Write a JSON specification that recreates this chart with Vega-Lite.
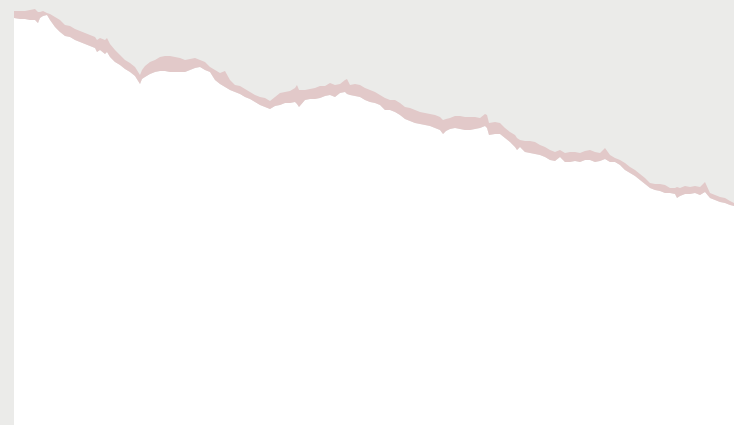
{
  "$schema": "https://vega.github.io/schema/vega-lite/v6.json",
  "width": 720,
  "height": 425,
  "padding": {"left": 14, "top": 0, "right": 0, "bottom": 0},
  "autosize": {"type": "none"},
  "background": "#ebebe9",
  "config": {"view": {"stroke": null}},
  "data": {"values": [
    {"t":0,"hi":414,"lo":407},{"t":6,"hi":414,"lo":406},{"t":11,"hi":414,"lo":406},{"t":16,"hi":415,"lo":405},{"t":21,"hi":416,"lo":405},{"t":24,"hi":413,"lo":402},{"t":26,"hi":413,"lo":407},{"t":29,"hi":414,"lo":409},{"t":33,"hi":412,"lo":410},{"t":36,"hi":411,"lo":405},
    {"t":41,"hi":408,"lo":398},{"t":46,"hi":405,"lo":393},{"t":51,"hi":400,"lo":389},{"t":56,"hi":399,"lo":388},{"t":61,"hi":396,"lo":385},{"t":66,"hi":394,"lo":383},{"t":71,"hi":392,"lo":381},{"t":76,"hi":390,"lo":379},{"t":81,"hi":388,"lo":377},{"t":83,"hi":385,"lo":373},
    {"t":86,"hi":387,"lo":375},{"t":91,"hi":385,"lo":371},{"t":93,"hi":387,"lo":373},{"t":96,"hi":381,"lo":368},{"t":101,"hi":375,"lo":363},{"t":106,"hi":370,"lo":360},{"t":111,"hi":365,"lo":356},{"t":116,"hi":362,"lo":353},{"t":121,"hi":358,"lo":349},{"t":126,"hi":350,"lo":341},
    {"t":128,"hi":355,"lo":346},{"t":131,"hi":359,"lo":348},{"t":136,"hi":363,"lo":351},{"t":141,"hi":365,"lo":353},{"t":146,"hi":368,"lo":354},{"t":151,"hi":369,"lo":354},{"t":156,"hi":369,"lo":353},{"t":161,"hi":368,"lo":353},{"t":166,"hi":367,"lo":353},{"t":171,"hi":365,"lo":353},
    {"t":176,"hi":366,"lo":355},{"t":181,"hi":367,"lo":357},{"t":186,"hi":365,"lo":358},{"t":191,"hi":363,"lo":355},{"t":196,"hi":358,"lo":353},{"t":201,"hi":355,"lo":345},{"t":206,"hi":352,"lo":341},{"t":211,"hi":354,"lo":338},{"t":216,"hi":345,"lo":335},{"t":221,"hi":340,"lo":333},
    {"t":226,"hi":339,"lo":331},{"t":231,"hi":336,"lo":328},{"t":236,"hi":333,"lo":326},{"t":241,"hi":330,"lo":323},{"t":246,"hi":328,"lo":320},{"t":251,"hi":327,"lo":318},{"t":256,"hi":324,"lo":316},{"t":261,"hi":328,"lo":319},{"t":266,"hi":332,"lo":320},{"t":271,"hi":333,"lo":322},
    {"t":276,"hi":334,"lo":322},{"t":281,"hi":337,"lo":323},{"t":283,"hi":340,"lo":321},{"t":285,"hi":335,"lo":318},{"t":291,"hi":335,"lo":325},{"t":296,"hi":336,"lo":326},{"t":301,"hi":337,"lo":326},{"t":306,"hi":339,"lo":327},{"t":311,"hi":339,"lo":329},{"t":316,"hi":342,"lo":330},
    {"t":321,"hi":340,"lo":328},{"t":326,"hi":341,"lo":332},{"t":331,"hi":345,"lo":333},{"t":333,"hi":346,"lo":331},{"t":336,"hi":340,"lo":330},{"t":341,"hi":341,"lo":329},{"t":346,"hi":340,"lo":328},{"t":351,"hi":337,"lo":325},{"t":356,"hi":335,"lo":323},{"t":361,"hi":333,"lo":322},
    {"t":366,"hi":330,"lo":320},{"t":371,"hi":327,"lo":315},{"t":376,"hi":325,"lo":315},{"t":381,"hi":325,"lo":313},{"t":386,"hi":322,"lo":310},{"t":391,"hi":318,"lo":306},{"t":396,"hi":317,"lo":304},{"t":401,"hi":315,"lo":302},{"t":406,"hi":313,"lo":301},{"t":411,"hi":312,"lo":300},
    {"t":416,"hi":311,"lo":299},{"t":421,"hi":310,"lo":297},{"t":426,"hi":308,"lo":295},{"t":429,"hi":305,"lo":291},{"t":432,"hi":306,"lo":294},{"t":436,"hi":307,"lo":296},{"t":441,"hi":309,"lo":297},{"t":446,"hi":309,"lo":296},{"t":451,"hi":308,"lo":295},{"t":456,"hi":308,"lo":295},
    {"t":461,"hi":308,"lo":296},{"t":466,"hi":307,"lo":297},{"t":471,"hi":311,"lo":299},{"t":473,"hi":310,"lo":297},{"t":475,"hi":302,"lo":290},{"t":481,"hi":303,"lo":291},{"t":486,"hi":302,"lo":291},{"t":491,"hi":297,"lo":287},{"t":496,"hi":293,"lo":283},{"t":501,"hi":290,"lo":278},
    {"t":503,"hi":287,"lo":275},{"t":506,"hi":285,"lo":278},{"t":511,"hi":284,"lo":273},{"t":516,"hi":284,"lo":272},{"t":521,"hi":283,"lo":271},{"t":526,"hi":280,"lo":270},{"t":531,"hi":278,"lo":268},{"t":536,"hi":275,"lo":265},{"t":541,"hi":273,"lo":264},{"t":546,"hi":275,"lo":268},
    {"t":551,"hi":272,"lo":263},{"t":556,"hi":273,"lo":263},{"t":561,"hi":273,"lo":264},{"t":566,"hi":272,"lo":263},{"t":571,"hi":274,"lo":265},{"t":576,"hi":275,"lo":265},{"t":581,"hi":273,"lo":263},{"t":586,"hi":272,"lo":264},{"t":591,"hi":277,"lo":266},{"t":596,"hi":270,"lo":263},
    {"t":601,"hi":267,"lo":263},{"t":606,"hi":265,"lo":260},{"t":611,"hi":262,"lo":255},{"t":616,"hi":258,"lo":252},{"t":621,"hi":255,"lo":249},{"t":626,"hi":251,"lo":245},{"t":631,"hi":247,"lo":241},{"t":636,"hi":242,"lo":237},{"t":641,"hi":241,"lo":235},{"t":646,"hi":241,"lo":234},
    {"t":651,"hi":240,"lo":232},{"t":656,"hi":237,"lo":232},{"t":661,"hi":237,"lo":231},{"t":663,"hi":238,"lo":227},{"t":666,"hi":237,"lo":229},{"t":671,"hi":239,"lo":231},{"t":676,"hi":238,"lo":231},{"t":681,"hi":239,"lo":232},{"t":686,"hi":238,"lo":230},{"t":691,"hi":243,"lo":233},
    {"t":696,"hi":232,"lo":227},{"t":701,"hi":230,"lo":225},{"t":706,"hi":228,"lo":223},{"t":711,"hi":227,"lo":222},{"t":716,"hi":224,"lo":220},{"t":720,"hi":222,"lo":219}
  ]},
  "encoding": {
    "x": {"field": "t", "type": "quantitative", "scale": {"domain": [0, 720], "nice": false, "zero": false}, "axis": null}
  },
  "layer": [
    {
      "mark": {"type": "area", "color": "#ffffff"},
      "encoding": {
        "y": {"field": "lo", "type": "quantitative", "scale": {"domain": [0, 425], "nice": false}, "axis": null}
      }
    },
    {
      "mark": {"type": "area", "color": "#e2c9c9"},
      "encoding": {
        "y": {"field": "hi", "type": "quantitative", "scale": {"domain": [0, 425], "nice": false}, "axis": null},
        "y2": {"field": "lo"}
      }
    }
  ]
}
